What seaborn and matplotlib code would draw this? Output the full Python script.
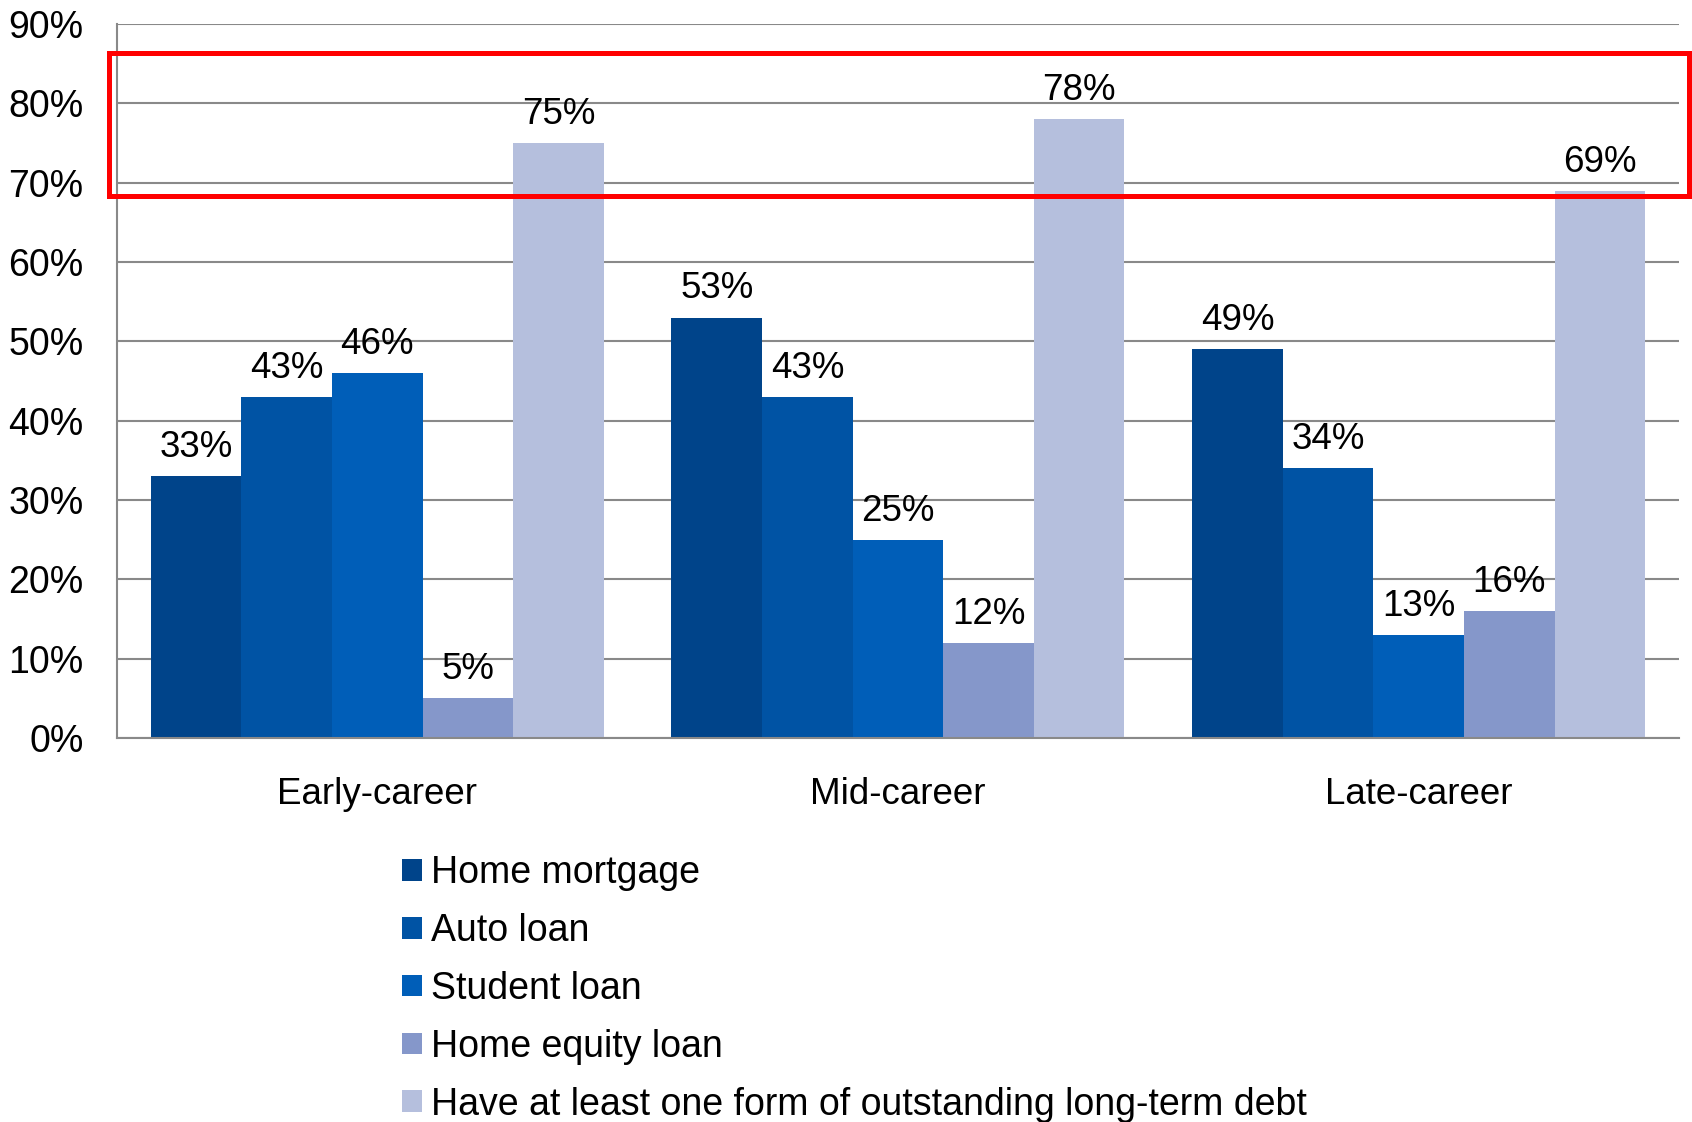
import pandas as pd
import matplotlib
matplotlib.use("Agg")
import matplotlib.pyplot as plt
import matplotlib.patches as mpatches
import seaborn as sns

# Data
stages = ["Early-career", "Mid-career", "Late-career"]
debt_types = ["Home mortgage", "Auto loan", "Student loan", "Home equity loan",
              "Have at least one form of outstanding long-term debt"]
home_mortgage = [33, 53, 49]
auto_loan = [43, 43, 34]
student_loan = [46, 25, 13]
home_equity = [5, 12, 16]
any_debt = [75, 78, 69]
y_ticks = [0, 10, 20, 30, 40, 50, 60, 70, 80, 90]

colors = ["#00448A", "#0053A4", "#005EB8", "#8597CA", "#B5BFDD"]

series = [home_mortgage, auto_loan, student_loan, home_equity, any_debt]
rows = []
for name, vals in zip(debt_types, series):
    for st, v in zip(stages, vals):
        rows.append({"stage": st, "type": name, "value": v})
df = pd.DataFrame(rows)

sns.set_style("white")
plt.rcParams["font.family"] = ["Liberation Sans", "DejaVu Sans"]
plt.rcParams["text.color"] = "black"
plt.rcParams["xtick.color"] = "black"
plt.rcParams["ytick.color"] = "black"

fig = plt.figure(figsize=(16.92, 11.22), dpi=100)
ax = fig.add_axes([0.0691, 0.3422, 0.9232, 0.6364])

sns.barplot(data=df, x="stage", y="value", hue="type", hue_order=debt_types,
            palette=colors, saturation=1, width=0.87, linewidth=0,
            errorbar=None, ax=ax, legend=False)

for cont in ax.containers:
    ax.bar_label(cont, fmt="%.0f%%", padding=8, fontsize=26.5, color="black")

ax.set_ylim(0, 90)
ax.set_xlim(-0.5, 2.5)
ax.set_yticks(y_ticks)
ax.set_yticklabels([f"{t}%" for t in y_ticks], fontsize=27)
ax.tick_params(axis="y", length=0, pad=24)
ax.tick_params(axis="x", length=0, pad=28, labelsize=26.5)
ax.set_xlabel("")
ax.set_ylabel("")
ax.yaxis.grid(True, color="#898989", linewidth=1.5)
ax.set_axisbelow(True)
for side in ["top", "right"]:
    ax.spines[side].set_visible(False)
for side in ["left", "bottom"]:
    ax.spines[side].set_color("#898989")
    ax.spines[side].set_linewidth(1.5)

# Legend
handles = [mpatches.Patch(facecolor=c, edgecolor="none") for c in colors]
fig.legend(handles, debt_types, loc="upper left", bbox_to_anchor=(0.2376, 0.238),
           frameon=False, fontsize=27, handlelength=0.52, handleheight=0.52,
           handletextpad=0.25, labelspacing=0.585, borderpad=0, borderaxespad=0)

# Red highlight box
rect = mpatches.Rectangle((0.0644, 0.8253), 0.9338, 0.1275, transform=fig.transFigure,
                          fill=False, edgecolor="#FF0000", linewidth=3.6, clip_on=False)
fig.patches.append(rect)

fig.savefig("out.png", dpi=100)
